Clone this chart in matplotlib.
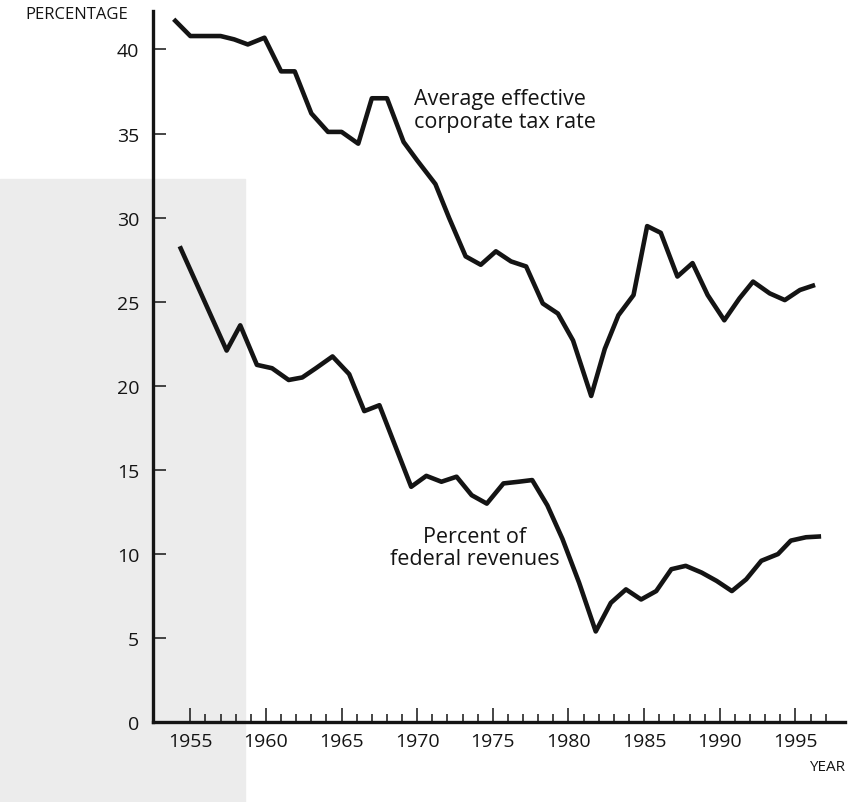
import numpy as np
import matplotlib.pyplot as plt
from matplotlib.patches import Rectangle

"""
Corporate tax: average effective rate and share of federal revenues
values read off the printed chart (x = position of each vertex in years)
"""
tax_years = [1953.9, 1955.0, 1956.0, 1957.0, 1957.9, 1958.8, 1959.9, 1961.0,
             1961.9, 1963.0, 1964.1, 1965.0, 1966.1, 1967.0, 1968.0, 1969.1,
             1970.0, 1971.2, 1972.1, 1973.2, 1974.2, 1975.2, 1976.2, 1977.2,
             1978.3, 1979.3, 1980.3, 1981.5, 1982.4, 1983.3, 1984.3, 1985.2,
             1986.1, 1987.2, 1988.2, 1989.2, 1990.3, 1991.3, 1992.2, 1993.3,
             1994.3, 1995.3, 1996.3]
tax_rate = [41.8, 40.8, 40.8, 40.8, 40.6, 40.3, 40.7, 38.7,
            38.7, 36.2, 35.1, 35.1, 34.4, 37.1, 37.1, 34.5,
            33.4, 32.0, 30.0, 27.7, 27.2, 28.0, 27.4, 27.1,
            24.9, 24.3, 22.7, 19.4, 22.2, 24.2, 25.4, 29.5,
            29.1, 26.5, 27.3, 25.4, 23.9, 25.2, 26.2, 25.5,
            25.1, 25.7, 26.0]

rev_years = [1954.3, 1957.4, 1958.3, 1959.4, 1960.4, 1961.5, 1962.4, 1963.3,
             1964.4, 1965.5, 1966.5, 1967.5, 1969.6, 1970.6, 1971.6, 1972.6,
             1973.6, 1974.6, 1975.7, 1976.7, 1977.6, 1978.6, 1979.6, 1980.7,
             1981.8, 1982.8, 1983.8, 1984.8, 1985.8, 1986.8, 1987.75, 1988.8,
             1989.8, 1990.8, 1991.75, 1992.75, 1993.85, 1994.7, 1995.7, 1996.7]
rev_share = [28.3, 22.1, 23.6, 21.25, 21.05, 20.35, 20.5, 21.05,
             21.75, 20.7, 18.5, 18.85, 14.0, 14.65, 14.3, 14.6,
             13.5, 13.0, 14.2, 14.3, 14.4, 12.9, 10.9, 8.3,
             5.4, 7.1, 7.9, 7.3, 7.8, 9.1, 9.3, 8.9,
             8.4, 7.8, 8.5, 9.6, 10.0, 10.8, 11.0, 11.05]

year_ticks = [1955, 1960, 1965, 1970, 1975, 1980, 1985, 1990, 1995]
year_minor = list(range(1956, 1998))
pct_ticks = [0, 5, 10, 15, 20, 25, 30, 35, 40]

plt.rcParams['font.family'] = ['Open Sans', 'DejaVu Sans']

fig = plt.figure(figsize=(8.57, 8.03), dpi=100)

# grey scanned strip on the left side of the page
fig.patches.append(Rectangle((0, 0), 245 / 857, 623 / 803, transform=fig.transFigure,
                             color='#ececec', zorder=-5))

ax = fig.add_axes([0.1785, 0.0993, 0.8075, 0.886])
ax.patch.set_alpha(0)

ax.plot(tax_years, tax_rate, color='#141414', lw=3.3, solid_joinstyle='round',
        solid_capstyle='butt')
ax.plot(rev_years, rev_share, color='#141414', lw=3.3, solid_joinstyle='round',
        solid_capstyle='butt')

ax.set_xlim(1952.53, 1998.28)
ax.set_ylim(0, 42.3)

# Adjust axes
for s in ['top', 'right']:
    ax.spines[s].set_visible(False)
for s in ['left', 'bottom']:
    ax.spines[s].set_linewidth(2.4)
    ax.spines[s].set_color('#141414')

ax.set_xticks(year_ticks)
ax.set_xticks(year_minor, minor=True)
ax.set_yticks(pct_ticks)
ax.tick_params(axis='x', which='major', direction='in', length=10, width=1.1,
               labelsize=14, pad=7, colors='#141414')
ax.tick_params(axis='x', which='minor', direction='in', length=6, width=1.1,
               colors='#141414')
ax.tick_params(axis='y', which='major', direction='in', length=9, width=1.1,
               labelsize=14, pad=10, colors='#141414')

# Line labels
ax.text(1969.8, 36.4, 'Average effective\ncorporate tax rate', ha='left', va='center',
        fontsize=15.5, linespacing=1.1, color='#141414')
ax.text(1973.8, 10.4, 'Percent of\nfederal revenues', ha='center', va='center',
        fontsize=15.5, linespacing=1.1, color='#141414')

fig.text(128 / 857, 1 - 15 / 803, 'PERCENTAGE', ha='right', va='center',
         fontsize=12, color='#141414')
fig.text(845 / 857, 1 - 768 / 803, 'YEAR', ha='right', va='center',
         fontsize=11, color='#141414')

fig.savefig('out.png', dpi=100)
